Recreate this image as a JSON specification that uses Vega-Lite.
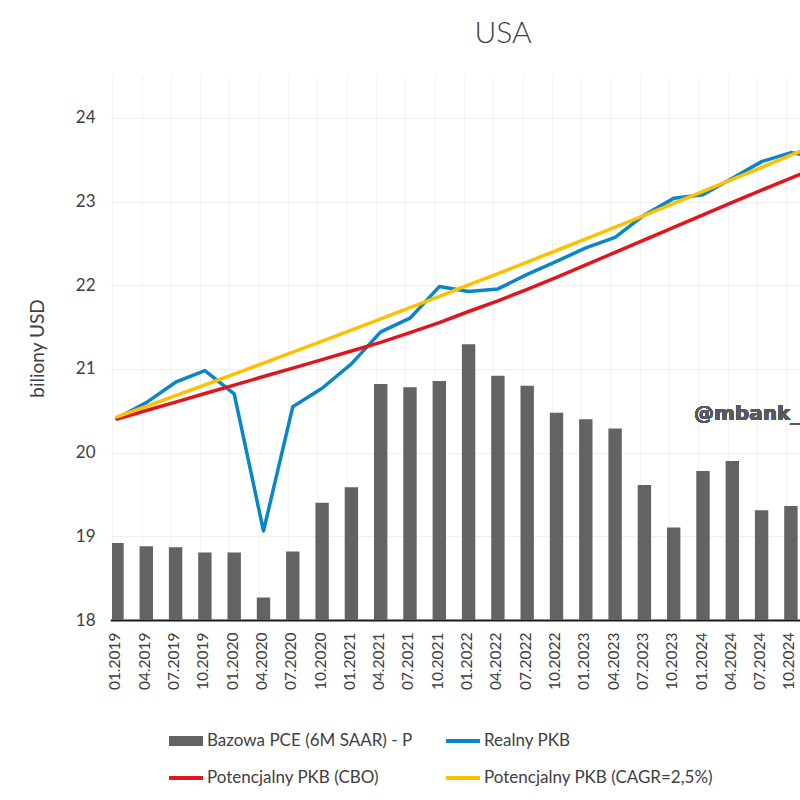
{
  "$schema": "https://vega.github.io/schema/vega-lite/v6.json",
  "width": 688,
  "height": 544,
  "autosize": {"type": "none"},
  "padding": {"left": 112, "top": 76, "right": 0, "bottom": 180},
  "background": "white",
  "config": {"view": {"stroke": null}},
  "title": {
    "text": "USA",
    "font": "Lato",
    "fontSize": 30,
    "fontWeight": 300,
    "color": "#404040",
    "anchor": "middle",
    "dx": 47,
    "baseline": "alphabetic",
    "offset": 3
  },
  "data": {
    "values": [
      {"date": "01.2019", "pce": 1.47, "gdp": 20.411, "cbo": 20.402, "cagr": 20.426},
      {"date": "04.2019", "pce": 1.41, "gdp": 20.597, "cbo": 20.503, "cagr": 20.553},
      {"date": "07.2019", "pce": 1.39, "gdp": 20.841, "cbo": 20.604, "cagr": 20.681},
      {"date": "10.2019", "pce": 1.29, "gdp": 20.98, "cbo": 20.706, "cagr": 20.809},
      {"date": "01.2020", "pce": 1.29, "gdp": 20.701, "cbo": 20.807, "cagr": 20.939},
      {"date": "04.2020", "pce": 0.43, "gdp": 19.064, "cbo": 20.909, "cagr": 21.069},
      {"date": "07.2020", "pce": 1.31, "gdp": 20.549, "cbo": 21.009, "cagr": 21.2},
      {"date": "10.2020", "pce": 2.24, "gdp": 20.769, "cbo": 21.111, "cagr": 21.331},
      {"date": "01.2021", "pce": 2.54, "gdp": 21.06, "cbo": 21.214, "cagr": 21.464},
      {"date": "04.2021", "pce": 4.51, "gdp": 21.442, "cbo": 21.317, "cagr": 21.597},
      {"date": "07.2021", "pce": 4.45, "gdp": 21.606, "cbo": 21.433, "cagr": 21.732},
      {"date": "10.2021", "pce": 4.57, "gdp": 21.984, "cbo": 21.553, "cagr": 21.867},
      {"date": "01.2022", "pce": 5.27, "gdp": 21.924, "cbo": 21.686, "cagr": 22.003},
      {"date": "04.2022", "pce": 4.67, "gdp": 21.956, "cbo": 21.813, "cagr": 22.139},
      {"date": "07.2022", "pce": 4.48, "gdp": 22.129, "cbo": 21.95, "cagr": 22.277},
      {"date": "10.2022", "pce": 3.96, "gdp": 22.285, "cbo": 22.093, "cagr": 22.415},
      {"date": "01.2023", "pce": 3.84, "gdp": 22.446, "cbo": 22.243, "cagr": 22.555},
      {"date": "04.2023", "pce": 3.66, "gdp": 22.572, "cbo": 22.392, "cagr": 22.695},
      {"date": "07.2023", "pce": 2.58, "gdp": 22.84, "cbo": 22.542, "cagr": 22.836},
      {"date": "10.2023", "pce": 1.77, "gdp": 23.038, "cbo": 22.691, "cagr": 22.978},
      {"date": "01.2024", "pce": 2.85, "gdp": 23.08, "cbo": 22.84, "cagr": 23.121},
      {"date": "04.2024", "pce": 3.04, "gdp": 23.279, "cbo": 22.99, "cagr": 23.265},
      {"date": "07.2024", "pce": 2.1, "gdp": 23.477, "cbo": 23.137, "cagr": 23.409},
      {"date": "10.2024", "pce": 2.18, "gdp": 23.585, "cbo": 23.279, "cagr": 23.555},
      {"date": "01.2025", "pce": null, "gdp": 23.52, "cbo": 23.426, "cagr": 23.701}
    ]
  },
  "encoding": {
    "x": {
      "field": "date",
      "type": "ordinal",
      "sort": null,
      "scale": {"type": "band", "range": [-1.7, 714.9], "paddingInner": 0.543, "paddingOuter": 0},
      "axis": {
        "title": null,
        "labelAngle": 270,
        "labelFont": "Lato",
        "labelFontSize": 15.5,
        "labelColor": "#404040",
        "labelPadding": 12,
        "labelOverlap": false,
        "ticks": false,
        "domain": true,
        "domainColor": "#1a1a1a",
        "domainWidth": 2,
        "grid": true,
        "gridColor": "#f2f2f2",
        "bandPosition": 0.5,
        "tickOffset": -4.7,
        "labelOffset": 2.7
      }
    }
  },
  "layer": [
    {
      "mark": {"type": "bar", "clip": true, "filled": true, "opacity": 1, "fillOpacity": 1},
      "encoding": {
        "y": {"field": "pce", "type": "quantitative", "scale": {"domain": [0, 10.4], "nice": false}, "axis": null},
        "fill": {
          "datum": "pce",
          "scale": {"domain": ["pce"], "range": ["#636363"]},
          "legend": {
            "orient": "none",
            "legendX": 55,
            "legendY": 646,
            "title": null,
            "labelFont": "Lato",
            "labelFontSize": 17,
            "labelOffset": 2,
            "labelExpr": "''",
            "symbolType": "M-1,-0.29H1V0.29H-1Z",
            "symbolSize": 1156,
            "symbolStrokeWidth": 4,
            "symbolStrokeColor": "transparent",
            "symbolOpacity": 1
          }
        }
      }
    },
    {
      "layer": [
        {
          "mark": {"type": "line", "clip": true, "strokeWidth": 3.5, "strokeJoin": "round", "strokeCap": "round"},
          "encoding": {
            "y": {
              "field": "gdp",
              "type": "quantitative",
              "scale": {"domain": [18, 24.5], "nice": false, "zero": false},
              "axis": {
                "title": "biliony USD",
                "titleFont": "Lato",
                "titleFontSize": 19,
                "titleFontWeight": "normal",
                "titleColor": "#404040",
                "titlePadding": 28,
                "labelFont": "Lato",
                "labelFontSize": 17,
                "labelColor": "#404040",
                "labelPadding": 17,
                "format": "d",
                "ticks": false,
                "domain": false,
                "grid": true,
                "gridColor": "#efefef",
                "values": [18, 19, 20, 21, 22, 23, 24]
              }
            },
            "color": {
              "datum": "gdp",
              "scale": {
                "domain": ["pce", "gdp", "cbo", "cagr"],
                "range": ["#636363", "#0A86C8", "#E0161F", "#FFC000"]
              },
              "legend": {
                "orient": "none",
                "legendX": 55,
                "legendY": 646,
                "columns": 2,
                "direction": "horizontal",
                "title": null,
                "labelFont": "Lato",
                "labelFontSize": 17,
                "labelColor": "#404040",
                "labelOffset": 2,
                "labelLimit": 500,
                "symbolType": "stroke",
                "symbolSize": 1156,
                "symbolStrokeWidth": 4,
                "symbolOpacity": 1,
                "columnPadding": 25,
                "rowPadding": 10,
                "labelExpr": "datum.value === 'pce' ? 'Bazowa PCE (6M SAAR) - P' : datum.value === 'gdp' ? 'Realny PKB' : datum.value === 'cbo' ? 'Potencjalny PKB (CBO)' : 'Potencjalny PKB (CAGR=2,5%)'"
              }
            }
          }
        },
        {
          "mark": {"type": "line", "clip": true, "strokeWidth": 3.5, "strokeJoin": "round", "strokeCap": "round"},
          "encoding": {
            "y": {"field": "cbo", "type": "quantitative"},
            "color": {"datum": "cbo"}
          }
        },
        {
          "mark": {"type": "line", "clip": true, "strokeWidth": 3.5, "strokeJoin": "round", "strokeCap": "round"},
          "encoding": {
            "y": {"field": "cagr", "type": "quantitative"},
            "color": {"datum": "cagr"}
          }
        },
        {
          "mark": {
            "type": "text",
            "text": "@mbank_research",
            "font": "DejaVu Sans",
            "fontWeight": "bold",
            "fontSize": 20,
            "fill": "#595959",
            "align": "left",
            "baseline": "alphabetic",
            "dx": -9
          },
          "encoding": {
            "x": {"datum": "01.2024"},
            "y": {"datum": 20.39}
          }
        }
      ]
    }
  ],
  "resolve": {"scale": {"y": "independent"}}
}
